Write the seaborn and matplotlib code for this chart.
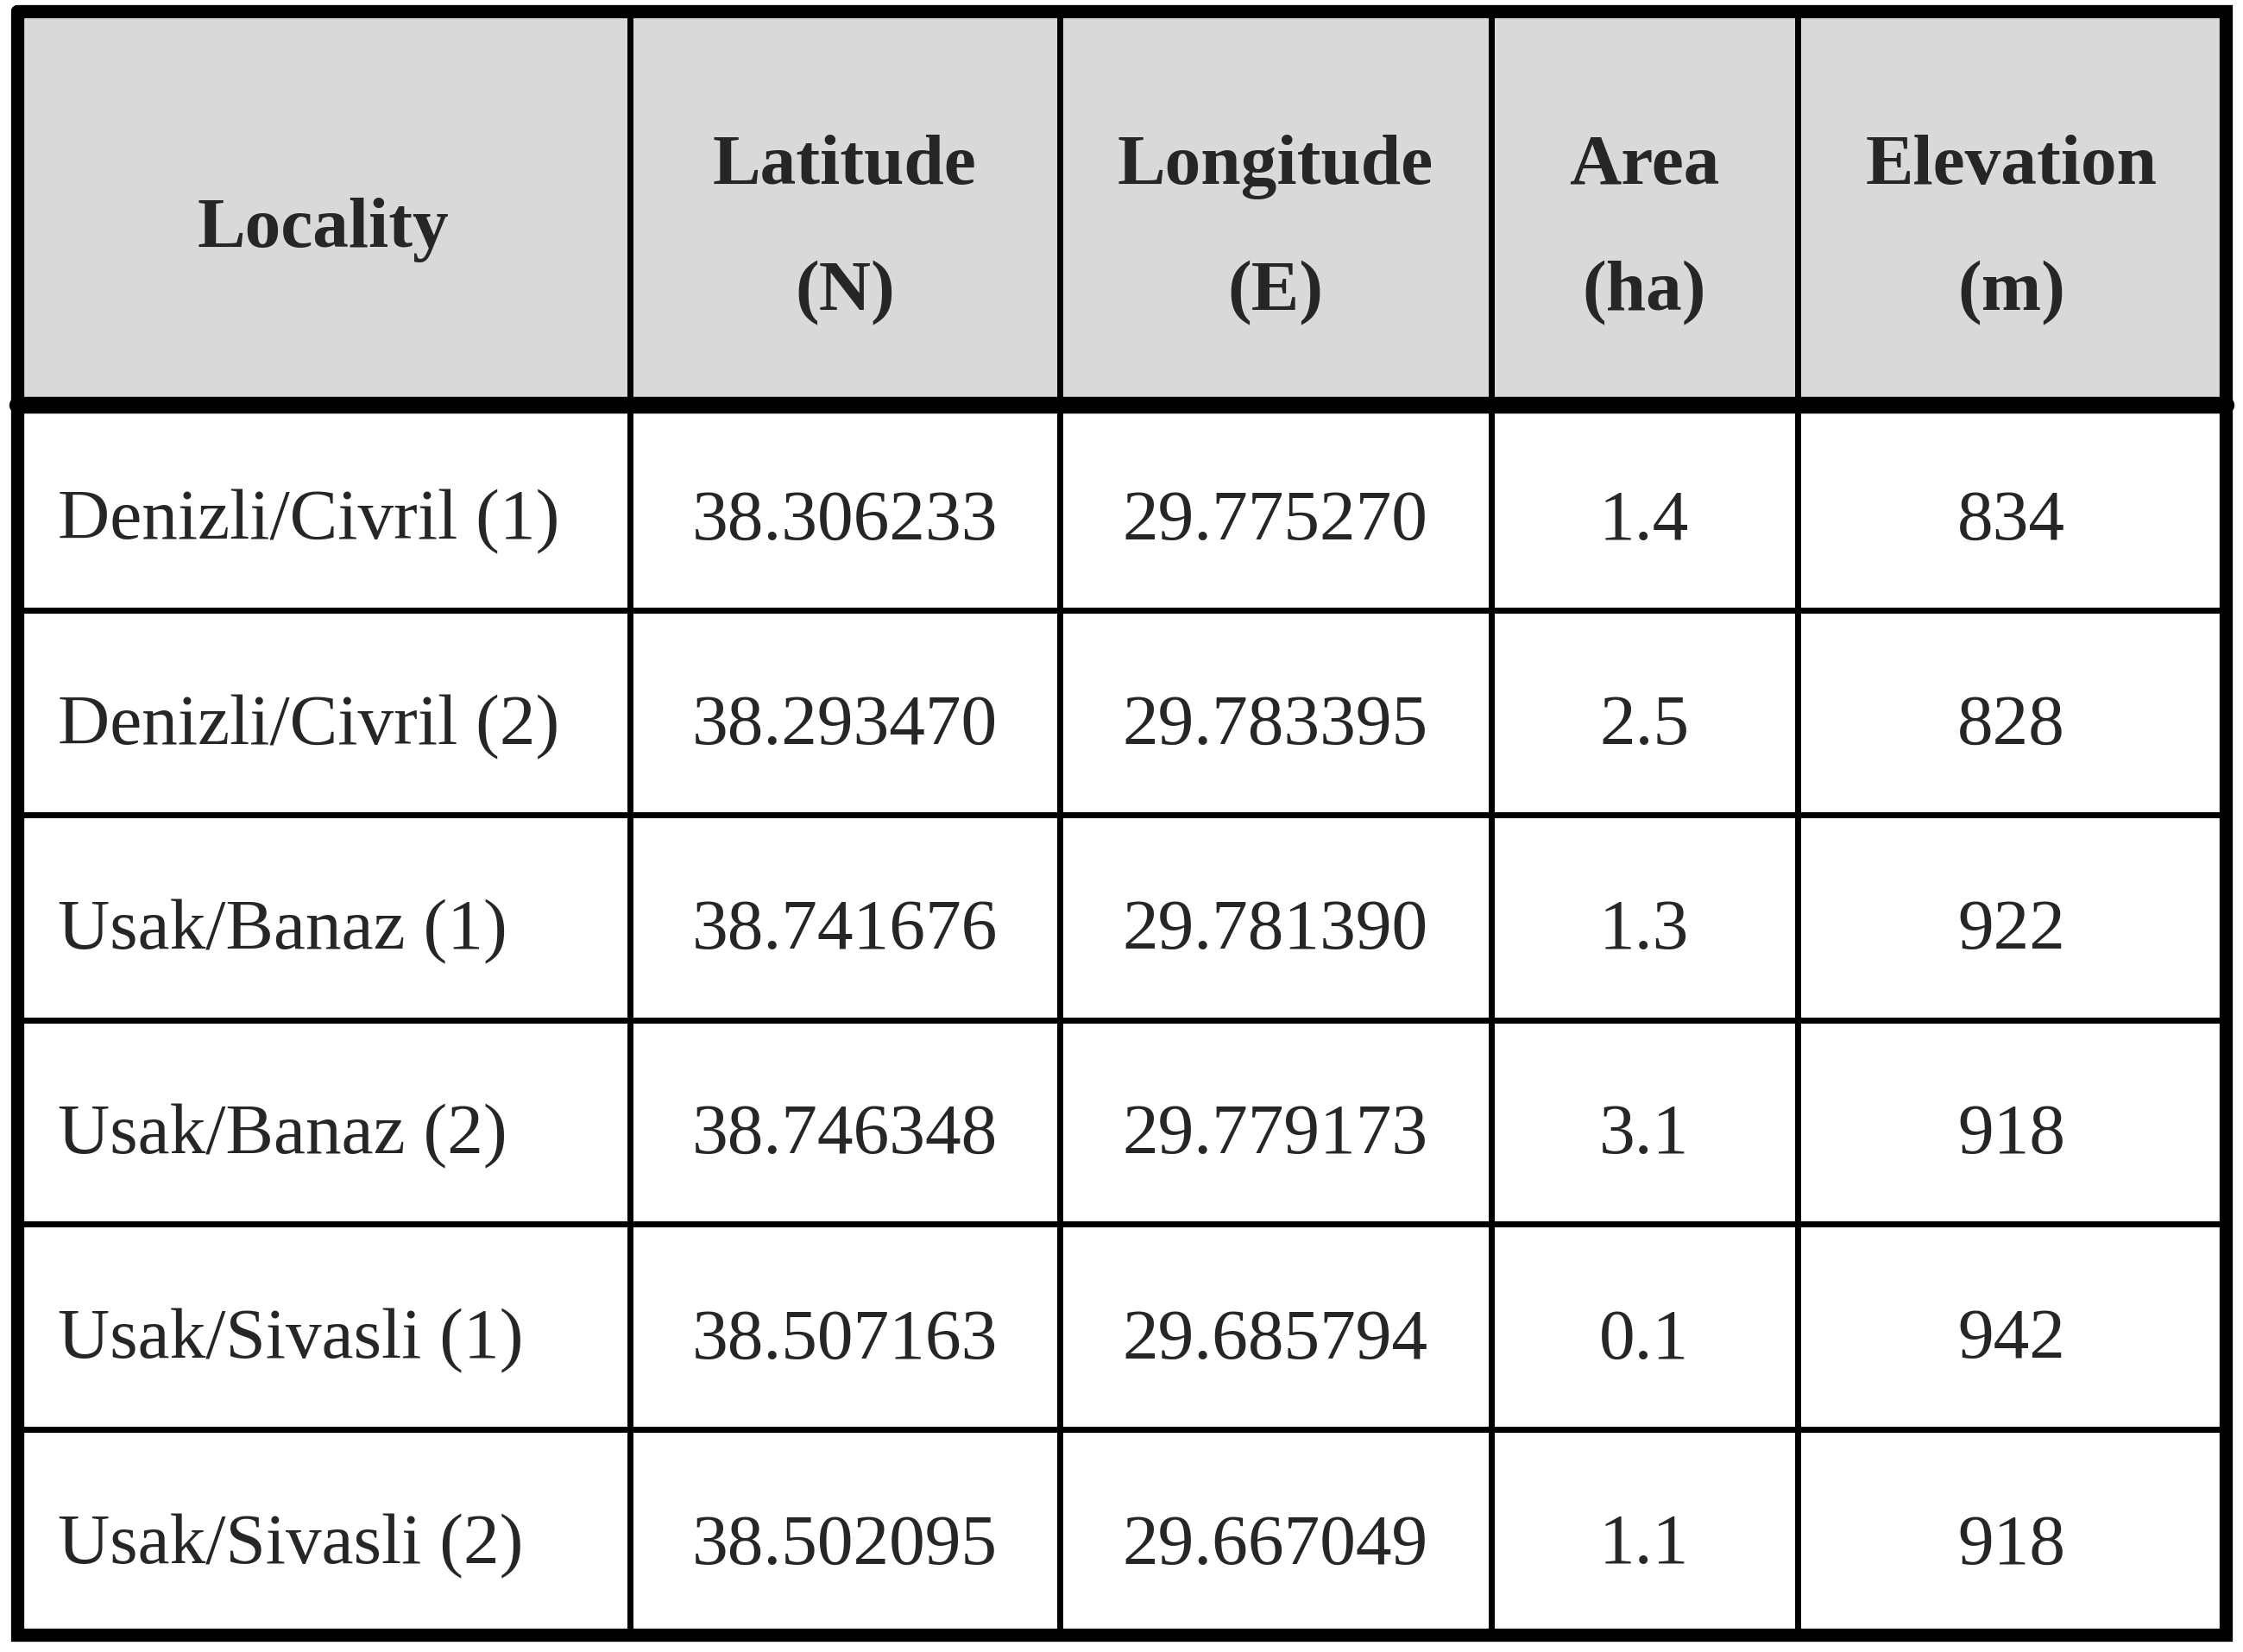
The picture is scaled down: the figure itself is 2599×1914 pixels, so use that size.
import matplotlib
matplotlib.use("Agg")
import matplotlib.pyplot as plt
import seaborn as sns

sns.set_style("white")
plt.rcParams['font.family'] = ['Liberation Serif', 'DejaVu Serif']

headers = ["Locality", "Latitude\n(N)", "Longitude\n(E)", "Area\n(ha)", "Elevation\n(m)"]
locality = ["Denizli/Civril (1)", "Denizli/Civril (2)", "Usak/Banaz (1)",
            "Usak/Banaz (2)", "Usak/Sivasli (1)", "Usak/Sivasli (2)"]
latitude = ["38.306233", "38.293470", "38.741676", "38.746348", "38.507163", "38.502095"]
longitude = ["29.775270", "29.783395", "29.781390", "29.779173", "29.685794", "29.667049"]
area = ["1.4", "2.5", "1.3", "3.1", "0.1", "1.1"]
elevation = ["834", "828", "922", "918", "942", "918"]

W, H = 1560, 1150
fig = plt.figure(figsize=(25.99, 19.14), dpi=100)
ax = fig.add_axes([0, 0, 1, 1])
ax.set_xlim(0, W); ax.set_ylim(H, 0); ax.axis("off")

L, R, T, B = 12, 1548, 8, 1138
cols = [L, 438, 737, 1037, 1250, R]
hb = 282
rows = [hb, 425, 567, 710, 852, 995, B]

ax.fill_between([L, R], T, hb, color="#d9d9d9", zorder=0)
lw = 5
for x in cols[1:-1]:
    ax.plot([x, x], [T, B], color="black", lw=lw)
for y in rows[1:-1]:
    ax.plot([L, R], [y, y], color="black", lw=lw)
ax.plot([L, R], [hb, hb], color="black", lw=14)
ax.plot([L, R, R, L, L], [T, T, B, B, T], color="black", lw=11, solid_joinstyle="miter")

fs = 60
for i, h in enumerate(headers):
    cx = (cols[i] + cols[i + 1]) / 2
    ax.text(cx, (T + hb) / 2 + 15, h, ha="center", va="center", fontsize=fs,
            fontweight="bold", linespacing=2.25)
data = [latitude, longitude, area, elevation]
for r in range(len(locality)):
    cy = (rows[r] + rows[r + 1]) / 2 + 10
    ax.text(40, cy, locality[r], ha="left", va="center", fontsize=fs)
    for j, col in enumerate(data):
        cx = (cols[j + 1] + cols[j + 2]) / 2
        ax.text(cx, cy, col[r], ha="center", va="center", fontsize=fs)

fig.savefig("out.png", dpi=100, facecolor="white")
